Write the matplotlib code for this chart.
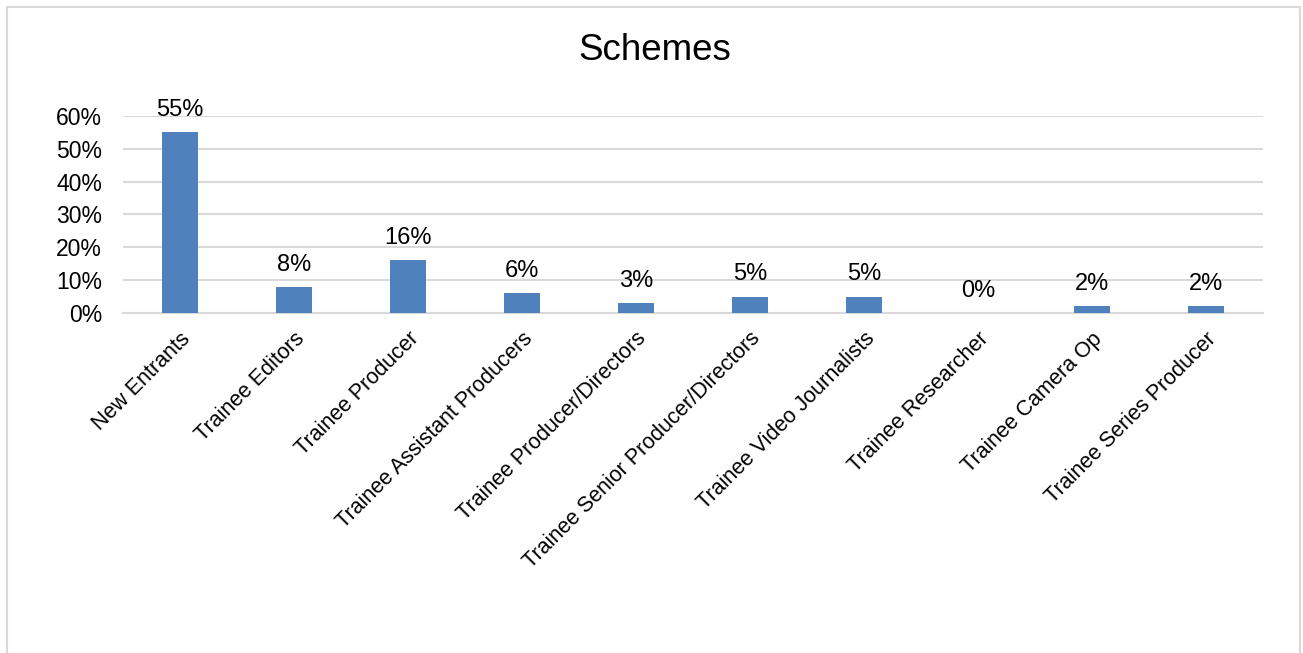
import matplotlib.pyplot as plt
from matplotlib.patches import Rectangle

plt.rcParams['font.family'] = ['Liberation Sans', 'DejaVu Sans']

# scheme shares (percent)
schemes = ['New Entrants', 'Trainee Editors', 'Trainee Producer',
           'Trainee Assistant Producers', 'Trainee Producer/Directors',
           'Trainee Senior Producer/Directors', 'Trainee Video Journalists',
           'Trainee Researcher', 'Trainee Camera Op', 'Trainee Series Producer']
shares = [55, 8, 16, 6, 3, 5, 5, 0, 2, 2]
yticks = [0, 10, 20, 30, 40, 50, 60]

fig = plt.figure(figsize=(13.03, 6.53), dpi=100)
ax = fig.add_axes([0.0944, 0.5207, 0.8749, 0.3017])

x = list(range(len(schemes)))
bars = ax.bar(x, shares, width=0.31, color='#4F81BD', zorder=3)
for b, v in zip(bars, shares):
    ax.annotate('%d%%' % v, (b.get_x() + b.get_width() / 2, v),
                xytext=(0, 8), textcoords='offset points',
                ha='center', va='bottom', fontsize=17, color='black')

ax.set_xlim(-0.5, len(schemes) - 0.5)
ax.set_ylim(0, 60)
ax.set_yticks(yticks)
ax.set_yticklabels(['%d%%' % t for t in yticks])
ax.set_xticks(x)
ax.set_xticklabels(schemes, rotation=45, ha='right', va='top',
                   rotation_mode='anchor')
ax.tick_params(axis='y', length=0, pad=15, labelsize=16.5)
ax.tick_params(axis='x', length=0, pad=11, labelsize=15.5)
ax.grid(axis='y', color='#D9D9D9', linewidth=1.5, zorder=0)
for s in ['top', 'right', 'left']:
    ax.spines[s].set_visible(False)
ax.spines['bottom'].set_color('#D9D9D9')
ax.spines['bottom'].set_linewidth(1.5)

fig.text(0.5028, 0.923, 'Schemes', ha='center', va='center', fontsize=26.5)

# light frame around the chart area
fig.patches.append(Rectangle((7 / 1303, -0.05), 1293 / 1303, 1.05 - 7 / 653,
                             transform=fig.transFigure, fill=False,
                             edgecolor='#D9D9D9', linewidth=1.5))

fig.savefig('out.png', dpi=100)
